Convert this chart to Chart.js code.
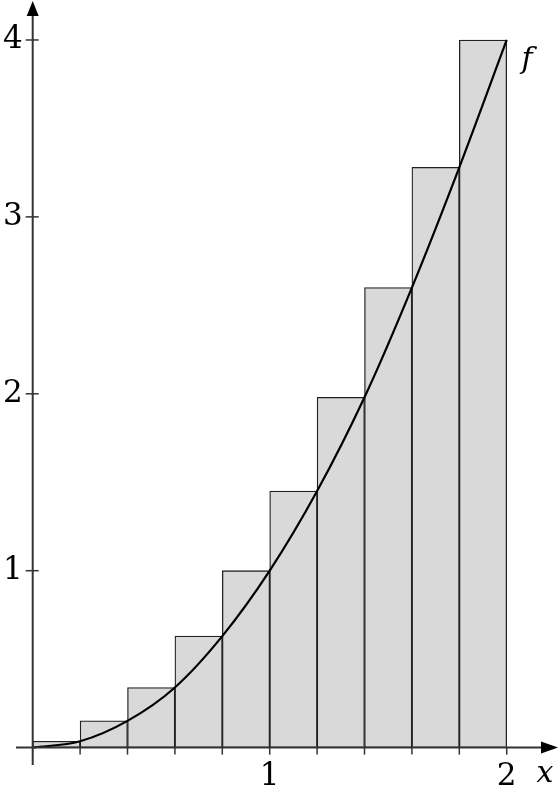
<!DOCTYPE html>
<html>
<head>
<meta charset="utf-8">
<script src="https://cdn.jsdelivr.net/npm/chart.js@4.4.1/dist/chart.umd.min.js"></script>
<style>
  html, body { margin: 0; padding: 0; background: #fff; }
  canvas { display: block; }
</style>
</head>
<body>
<canvas id="myChart" width="558" height="789"></canvas>
<script>
// barres de la somme supérieure (centre de chaque intervalle, hauteur)
const barCenters = [0.1, 0.3, 0.5, 0.7, 0.9, 1.1, 1.3, 1.5, 1.7, 1.9];
const barHeights = [0.036, 0.151, 0.34, 0.63, 1.0, 1.45, 1.98, 2.6, 3.28, 4.0];

const curveX = [0, 0.2, 0.4, 0.6, 0.8, 1.0, 1.2, 1.4, 1.6, 1.8, 2.0];
const curveY = [0, 0.036, 0.151, 0.34, 0.63, 1.0, 1.45, 1.98, 2.6, 3.28, 4.0];

// graduations
const xTickMarks = [0.2, 0.4, 0.6, 0.8, 1.0, 1.2, 1.4, 1.6, 1.8, 2.0];
const xTickLabels = [1, 2];
const yTickLabels = [1, 2, 3, 4];

const FONT = '"DejaVu Serif", serif';

const axesPlugin = {
    id: 'axes',
    afterDatasetsDraw(chart) {
        const ctx = chart.ctx;
        const xs = chart.scales.x;
        const ys = chart.scales.y;
        const x0 = xs.getPixelForValue(0);
        const y0 = ys.getPixelForValue(0);
        ctx.save();
        ctx.strokeStyle = '#333';
        ctx.fillStyle = '#000';
        ctx.lineWidth = 2;

        // axe des x
        ctx.beginPath();
        ctx.moveTo(16, y0);
        ctx.lineTo(544, y0);
        ctx.stroke();
        ctx.beginPath();
        ctx.moveTo(558, y0);
        ctx.lineTo(541, y0 - 6);
        ctx.lineTo(541, y0 + 6);
        ctx.closePath();
        ctx.fill();

        // axe des y
        ctx.beginPath();
        ctx.moveTo(x0, 765);
        ctx.lineTo(x0, 14);
        ctx.stroke();
        ctx.beginPath();
        ctx.moveTo(x0, 1);
        ctx.lineTo(x0 - 6, 16);
        ctx.lineTo(x0 + 6, 16);
        ctx.closePath();
        ctx.fill();

        // graduations x (vers le bas)
        ctx.lineWidth = 1.5;
        xTickMarks.forEach(v => {
            const px = xs.getPixelForValue(v);
            ctx.beginPath();
            ctx.moveTo(px, y0);
            ctx.lineTo(px, y0 + 7);
            ctx.stroke();
        });
        // graduations y (traversantes)
        yTickLabels.forEach(v => {
            const py = ys.getPixelForValue(v);
            ctx.beginPath();
            ctx.moveTo(x0 - 7, py);
            ctx.lineTo(x0 + 6, py);
            ctx.stroke();
        });

        ctx.font = '31px ' + FONT;
        ctx.fillStyle = '#000';
        ctx.textAlign = 'center';
        ctx.textBaseline = 'middle';
        xTickLabels.forEach(v => {
            ctx.fillText(String(v), xs.getPixelForValue(v), y0 + 29);
        });
        ctx.textAlign = 'right';
        yTickLabels.forEach(v => {
            ctx.fillText(String(v), x0 - 10, ys.getPixelForValue(v));
        });

        ctx.font = 'italic 30px ' + FONT;
        ctx.textAlign = 'center';
        ctx.fillText('x', 545, y0 + 27);
        ctx.fillText('f', 527, 60);
        ctx.restore();
    }
};

const ctx = document.getElementById('myChart').getContext('2d');
new Chart(ctx, {
    type: 'bar',
    data: {
        datasets: [
            {
                type: 'line',
                label: 'f',
                data: curveX.map((x, i) => ({ x: x, y: curveY[i] })),
                borderColor: '#000',
                borderWidth: 2.2,
                pointRadius: 0,
                fill: false,
                cubicInterpolationMode: 'monotone',
                order: 0
            },
            {
                label: 'somme',
                data: barCenters.map((x, i) => ({ x: x, y: [0, barHeights[i]] })),
                backgroundColor: '#d9d9d9',
                borderColor: '#222',
                borderWidth: 1.3,
                borderSkipped: false,
                barPercentage: 1,
                categoryPercentage: 1,
                order: 1
            }
        ]
    },
    options: {
        responsive: false,
        animation: false,
        layout: { padding: 0 },
        plugins: {
            legend: { display: false },
            tooltip: { enabled: false }
        },
        scales: {
            x: {
                type: 'linear',
                display: false,
                offset: false,
                min: -0.138,
                max: 2.2164,
                afterBuildTicks: s => { s.ticks = xTickMarks.map(v => ({ value: v })); }
            },
            y: {
                type: 'linear',
                display: false,
                min: -0.234,
                max: 4.226
            }
        }
    },
    plugins: [axesPlugin]
});
</script>
</body>
</html>
